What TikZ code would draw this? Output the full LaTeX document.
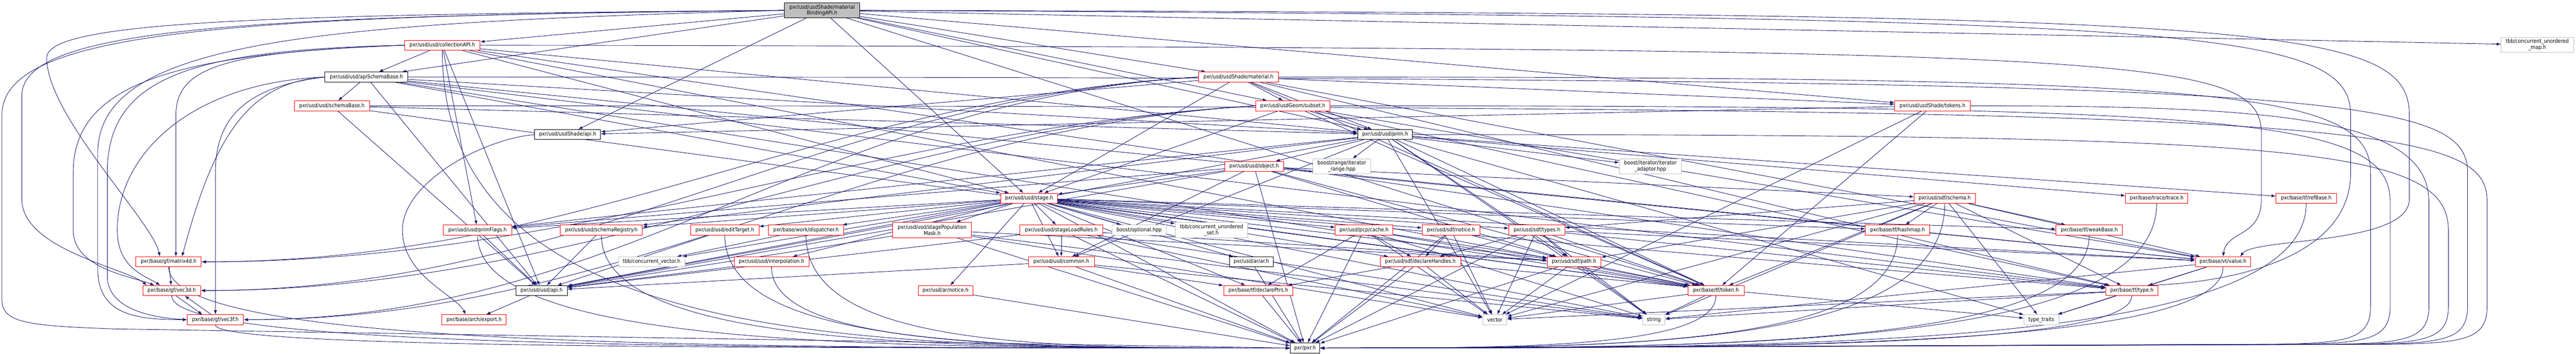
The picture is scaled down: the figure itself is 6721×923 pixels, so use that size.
\documentclass[tikz,border=0pt]{standalone}
\usepackage{fontspec}
\setmainfont{DejaVu Sans Condensed}
\usetikzlibrary{arrows.meta,calc}
\definecolor{edgec}{HTML}{191970}
\definecolor{greyb}{HTML}{BFBFBF}
\pgfdeclarelayer{bg}
\pgfsetlayers{bg,main}
\newcommand\nf{\fontsize{14pt}{16pt}\selectfont}
\tikzset{
 nd/.style={draw, rectangle, font=\nf, inner sep=0pt, minimum height=26pt, line width=1.2pt, fill=white, align=center},
 rd/.style={nd, draw=red},
 bk/.style={nd, draw=black},
 gy/.style={nd, draw=greyb},
 rt/.style={nd, draw=black, fill=greyb},
 e/.style={draw=edgec, line width=1.2pt, -{Latex[length=11pt,width=8pt]}},
}
\begin{document}
\begin{tikzpicture}[x=1pt,y=-1pt]
\useasboundingbox (0,0) rectangle (6721,923);
% nodes
\node[rt,minimum width=196pt,minimum height=39pt] (root) at (2145,27) {pxr/usd/usdShade/material\\BindingAPI.h};
\node[rd,minimum width=197pt] (collAPI) at (1154,118) {pxr/usd/usd/collectionAPI.h};
\node[gy,minimum width=189pt,minimum height=39pt] (tbbmap) at (6620,117) {tbb/concurrent\_unordered\\\_map.h};
\node[bk,minimum width=217pt] (apiSB) at (956,201) {pxr/usd/usd/apiSchemaBase.h};
\node[rd,minimum width=208pt] (material) at (3231,201) {pxr/usd/usdShade/material.h};
\node[rd,minimum width=196pt] (schemaBase) at (866,276) {pxr/usd/usd/schemaBase.h};
\node[rd,minimum width=194pt] (subset) at (3373,276) {pxr/usd/usdGeom/subset.h};
\node[rd,minimum width=197pt] (shtokens) at (5042,276) {pxr/usd/usdShade/tokens.h};
\node[bk,minimum width=172pt] (shapi) at (1481,351) {pxr/usd/usdShade/api.h};
\node[bk,minimum width=143pt] (prim) at (3614,351) {pxr/usd/usd/prim.h};
\node[rd,minimum width=153pt] (object) at (3272,434) {pxr/usd/usd/object.h};
\node[gy,minimum width=151pt,minimum height=40pt] (itrange) at (3501,434) {boost/range/iterator\\\_range.hpp};
\node[gy,minimum width=162pt,minimum height=40pt] (itadapt) at (4306,434) {boost/iterator/iterator\\\_adaptor.hpp};
\node[rd,minimum width=148pt] (stage) at (2685,517) {pxr/usd/usd/stage.h};
\node[rd,minimum width=160pt] (schema) at (5074,517) {pxr/usd/sdf/schema.h};
\node[rd,minimum width=163pt] (trace) at (5627,517) {pxr/base/trace/trace.h};
\node[rd,minimum width=158pt] (refBase) at (6017,517) {pxr/base/tf/refBase.h};
\node[rd,minimum width=178pt] (primFlags) at (1246,600) {pxr/usd/usd/primFlags.h};
\node[rd,minimum width=214pt] (schemaReg) at (1569,600) {pxr/usd/usd/schemaRegistry.h};
\node[rd,minimum width=178pt] (editTarget) at (1891,600) {pxr/usd/usd/editTarget.h};
\node[rd,minimum width=197pt] (dispatcher) at (2103,600) {pxr/base/work/dispatcher.h};
\node[rd,minimum width=206pt,minimum height=40pt] (popMask) at (2432,600) {pxr/usd/usd/stagePopulation\\Mask.h};
\node[rd,minimum width=216pt] (loadRules) at (2769,600) {pxr/usd/usd/stageLoadRules.h};
\node[gy,minimum width=142pt] (optional) at (2972,600) {boost/optional.hpp};
\node[gy,minimum width=189pt,minimum height=40pt] (tbbset) at (3161,600) {tbb/concurrent\_unordered\\\_set.h};
\node[rd,minimum width=150pt] (pcpcache) at (3559,600) {pxr/usd/pcp/cache.h};
\node[rd,minimum width=151pt] (sdfnotice) at (3786,600) {pxr/usd/sdf/notice.h};
\node[rd,minimum width=146pt] (sdftypes) at (4010,600) {pxr/usd/sdf/types.h};
\node[rd,minimum width=168pt] (hashmap) at (4951,600) {pxr/base/tf/hashmap.h};
\node[rd,minimum width=173pt] (weakBase) at (5451,600) {pxr/base/tf/weakBase.h};
\node[rd,minimum width=171pt] (matrix4d) at (440,683) {pxr/base/gf/matrix4d.h};
\node[gy,minimum width=173pt] (concvec) at (1700,683) {tbb/concurrent\_vector.h};
\node[rd,minimum width=195pt] (interp) at (2013,683) {pxr/usd/usd/interpolation.h};
\node[rd,minimum width=172pt] (common) at (2769,683) {pxr/usd/usd/common.h};
\node[bk,minimum width=115pt] (arh) at (3265,683) {pxr/usd/ar/ar.h};
\node[rd,minimum width=210pt] (declHandles) at (3706,683) {pxr/usd/sdf/declareHandles.h};
\node[rd,minimum width=140pt] (sdfpath) at (4107,683) {pxr/usd/sdf/path.h};
\node[rd,minimum width=145pt] (value) at (5800,683) {pxr/base/vt/value.h};
\node[rd,minimum width=151pt] (vec3d) at (448,758) {pxr/base/gf/vec3d.h};
\node[bk,minimum width=134pt] (usdapi) at (1413,758) {pxr/usd/usd/api.h};
\node[rd,minimum width=143pt] (arnotice) at (2467,758) {pxr/usd/ar/notice.h};
\node[rd,minimum width=181pt] (declPtrs) at (3283,758) {pxr/base/tf/declarePtrs.h};
\node[rd,minimum width=146pt] (token) at (4477,758) {pxr/base/tf/token.h};
\node[rd,minimum width=136pt] (type) at (5562,758) {pxr/base/tf/type.h};
\node[rd,minimum width=147pt] (vec3f) at (562,834) {pxr/base/gf/vec3f.h};
\node[rd,minimum width=168pt] (export) at (1237,834) {pxr/base/arch/export.h};
\node[gy,minimum width=63pt] (vector) at (3900,834) {vector};
\node[gy,minimum width=58pt] (string) at (4315,834) {string};
\node[gy,minimum width=91pt] (typetraits) at (5326,834) {type\_traits};
\node[bk,minimum width=77pt] (pxrh) at (3405,908) {pxr/pxr.h};
% edges
\begin{pgfonlayer}{bg}
\fill[white] (0,0) rectangle (6721,923);
\foreach \s/\t in {root/collAPI, root/apiSB, root/material, root/subset, root/shtokens, root/shapi, root/prim, root/stage, root/token, root/tbbmap,
 collAPI/usdapi, collAPI/apiSB, collAPI/prim, collAPI/stage, collAPI/primFlags, collAPI/token, collAPI/type,
 apiSB/usdapi, apiSB/schemaBase, apiSB/prim, apiSB/stage, apiSB/value, apiSB/token, apiSB/type,
 schemaBase/usdapi, schemaBase/prim, schemaBase/token,
 material/shapi, material/prim, material/stage, material/shtokens, material/subset, material/value, material/token, material/type,
 subset/prim, subset/stage, subset/value, subset/token, subset/type,
 shtokens/shapi, shtokens/token, shtokens/vector,
 usdapi/export,
 prim/usdapi, prim/object, prim/primFlags, prim/schemaReg, prim/common, prim/itrange, prim/itadapt, prim/sdfpath, prim/token, prim/refBase, prim/trace, prim/vector, prim/string, prim/typetraits,
 object/usdapi, object/common, object/primFlags, object/stage, object/sdfpath, object/token, object/value, object/schema, object/pxrh,
 stage/usdapi, stage/common, stage/editTarget, stage/interp, stage/schemaReg, stage/primFlags, stage/popMask, stage/loadRules, stage/optional, stage/tbbset, stage/concvec, stage/dispatcher, stage/arh, stage/arnotice, stage/declPtrs, stage/pcpcache, stage/sdfnotice, stage/sdftypes, stage/declHandles, stage/sdfpath, stage/hashmap, stage/weakBase, stage/value, stage/token, stage/type, stage/vector, stage/string, stage/pxrh,
 popMask/usdapi, popMask/sdfpath, popMask/vector, popMask/string, popMask/pxrh,
 loadRules/usdapi, loadRules/common, loadRules/sdfpath, loadRules/vector, loadRules/string, loadRules/pxrh,
 common/usdapi, common/declPtrs, common/string, common/pxrh,
 arh/pxrh, arnotice/pxrh, declPtrs/pxrh,
 pcpcache/pxrh, pcpcache/declPtrs, pcpcache/declHandles, pcpcache/sdfpath, pcpcache/vector, pcpcache/string, pcpcache/token,
 sdfnotice/pxrh, sdfnotice/declHandles, sdfnotice/sdfpath, sdfnotice/vector,
 sdftypes/pxrh, sdftypes/declHandles, sdftypes/sdfpath, sdftypes/vector, sdftypes/string, sdftypes/token, sdftypes/value, sdftypes/type,
 declHandles/pxrh, declHandles/declPtrs, declHandles/vector, declHandles/typetraits,
 sdfpath/pxrh, sdfpath/vector, sdfpath/string, sdfpath/token,
 schema/sdftypes, schema/sdfpath, schema/hashmap, schema/weakBase, schema/token, schema/type, schema/value, schema/vector, schema/string, schema/typetraits,
 value/type, value/string, value/typetraits,
 token/string, token/vector,
 type/string, type/vector, type/typetraits,
 primFlags/usdapi, schemaReg/usdapi, editTarget/usdapi, interp/usdapi, dispatcher/concvec,
 matrix4d/vec3d}
 \draw[e] (\s) -- (\t);
% bundles into pxr.h
\foreach \s in {collAPI, primFlags, schemaReg, editTarget, dispatcher, interp, matrix4d, vec3d, vec3f}
 \draw[e] (\s.south) .. controls (\s.south |- pxrh.west) and ($(\s.south |- pxrh.west)!0.5!(pxrh.west)$) .. (pxrh.west);
\foreach \s in {token, schema, hashmap, weakBase, trace, refBase, value, type}
 \draw[e] (\s.south) .. controls (\s.south |- pxrh.east) and ($(\s.south |- pxrh.east)!0.5!(pxrh.east)$) .. (pxrh.east);
\foreach \s/\X/\Y in {material/6185/201, subset/6236/276, shtokens/6337/276, prim/6388/351, apiSB/6438/201, schemaBase/6489/276}
 \draw[e] (\s.east) .. controls (\X-400,\Y) and (\X,\Y+30) .. (\X,\Y+250) -- (\X,800) .. controls (\X,885) and (\X-60,895) .. (\X-250,898) -- (pxrh.east);
% left loops
\draw[e] (root.west) .. controls (600,40) and (5,80) .. (5,300) -- (5,780) .. controls (5,840) and (60,850) .. (300,858) -- (pxrh.west);
\draw[e] (root.west) .. controls (700,38) and (125,55) .. (122,150) .. controls (120,300) and (400,580) .. ([xshift=-23pt]matrix4d.north);
\draw[e] (root.west) .. controls (650,42) and (57,70) .. (57,250) -- (57,520) .. controls (57,650) and (330,700) .. ([xshift=-65pt]vec3d.north);
\draw[e] (root.west) .. controls (800,60) and (255,110) .. (255,400) -- (255,700) .. controls (255,820) and (350,834) .. (vec3f.west);
\draw[e] (collAPI.west) .. controls (500,130) and (280,200) .. (280,450) -- (280,720) .. controls (280,800) and (380,828) .. (vec3f.west);
\draw[e] (collAPI.west) .. controls (450,140) and (191,220) .. (191,450) -- (191,600) .. controls (191,700) and (340,720) .. ([xshift=-45pt]vec3d.north);
\draw[e] (collAPI.west) .. controls (600,135) and (459,170) .. (459,300) -- ([xshift=19pt]matrix4d.north);
\draw[e] (apiSB.west) .. controls (500,215) and (306,400) .. (306,600) .. controls (306,700) and (380,720) .. ([xshift=-30pt]vec3d.north);
\draw[e] (apiSB.west) .. controls (650,215) and (560,350) .. ([xshift=35pt]matrix4d.north);
\draw[e] (apiSB.west) .. controls (650,225) and (562,300) .. (562,450) -- (vec3f.north);
\foreach \s in {material, subset}
 \foreach \t in {matrix4d, vec3d, vec3f}
  \draw[e] (\s.west) .. controls +(-1000,60) and +(1000,0) .. (\t.east);
\draw[e] (shapi.west) .. controls (1250,365) and (1050,480) .. (1050,600) .. controls (1050,720) and (1190,770) .. ([xshift=-22pt]export.north);
\draw[e] ([xshift=11pt]vec3d.south) -- ([xshift=-34pt]vec3f.north);
\draw[e] ([xshift=-11pt]vec3f.north) -- ([xshift=34pt]vec3d.south);
% right loops into value and type
\draw[e] (root.east) .. controls (5900,35) and (6286,60) .. (6286,300) -- (6286,520) .. controls (6286,640) and (5880,620) .. ([xshift=45pt]value.north);
\draw[e] (collAPI.east) .. controls (5600,125) and (5900,140) .. (5900,350) -- (5900,520) .. controls (5900,620) and (5810,600) .. (value.north);
\draw[e] (root.east) .. controls (5700,45) and (6133,70) .. (6133,300) -- (6133,450) .. controls (6133,700) and (5750,740) .. ([xshift=40pt]type.north);
\end{pgfonlayer}
\end{tikzpicture}
\end{document}
